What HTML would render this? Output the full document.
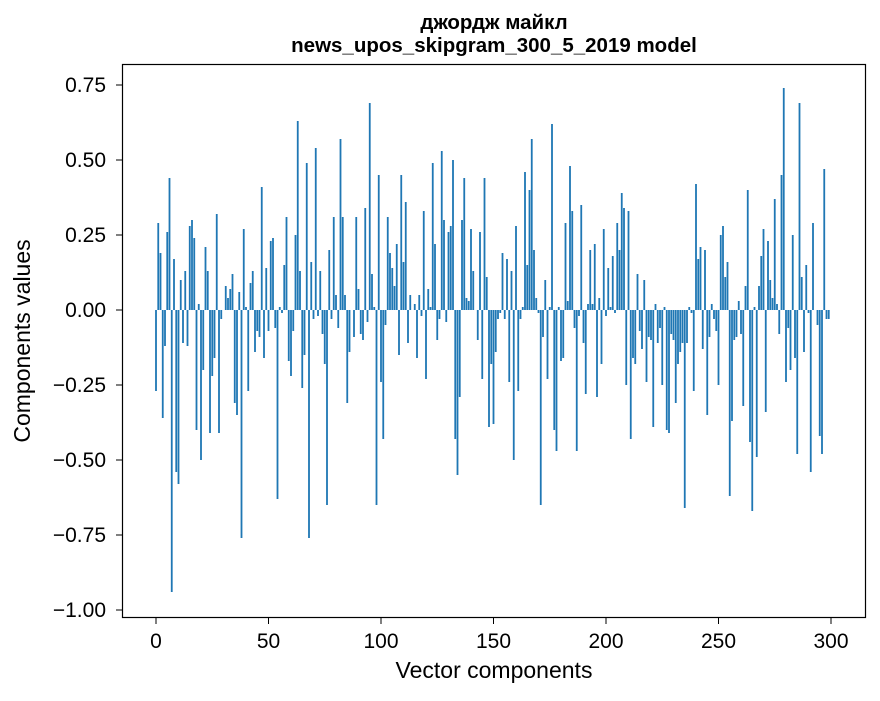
<!DOCTYPE html>
<html><head><meta charset="utf-8"><style>
body{margin:0;background:#fff;font-family:"Liberation Sans","DejaVu Sans",sans-serif}
svg text{font-family:"Liberation Sans","DejaVu Sans",sans-serif}
</style></head><body>
<svg id="chart" width="880" height="696" xmlns="http://www.w3.org/2000/svg">
<rect width="880" height="696" fill="#fff"/>
<text x="494" y="29" text-anchor="middle" font-size="20.5" font-weight="bold">джордж майкл</text>
<text x="494" y="52" text-anchor="middle" font-size="20.5" font-weight="bold">news_upos_skipgram_300_5_2019 model</text>
<g id="bars"></g>
<rect x="122.5" y="64.5" width="743" height="553" fill="none" stroke="#000" stroke-width="1.2"/>
<g id="xaxis"></g>
<g id="yaxis"></g>
<text x="494" y="678" text-anchor="middle" font-size="23">Vector components</text>
<text transform="translate(30,341) rotate(-90)" text-anchor="middle" font-size="23">Components values</text>
</svg>
<script>
const values = [
-0.27,0.29,0.19,-0.36,-0.12,0.26,0.44,-0.94,0.17,-0.54,
-0.58,0.10,-0.11,0.13,-0.12,0.28,0.30,0.24,-0.40,0.02,
-0.50,-0.20,0.21,0.13,-0.41,-0.22,-0.16,0.32,-0.41,-0.03,
0.0,0.08,0.04,0.07,0.12,-0.31,-0.35,0.06,-0.76,0.27,
0.01,-0.27,0.09,0.13,-0.14,-0.07,-0.09,0.41,-0.16,0.14,
-0.07,0.23,0.24,-0.06,-0.63,0.01,-0.01,0.15,0.31,-0.17,
-0.22,-0.07,0.25,0.63,0.13,-0.26,-0.15,0.49,-0.76,0.16,
-0.03,0.54,-0.02,0.13,-0.08,-0.18,-0.65,0.20,-0.03,0.31,
0.05,-0.06,0.57,0.31,0.05,-0.31,-0.14,0.0,-0.09,0.31,
0.07,-0.08,-0.10,0.34,-0.04,0.69,0.12,0.01,-0.65,0.45,
-0.24,-0.43,-0.05,0.31,0.19,0.14,0.08,0.22,-0.15,0.45,
0.16,0.36,-0.11,0.05,0.0,0.02,-0.16,0.05,-0.02,0.33,
-0.23,0.07,0.01,0.49,0.22,-0.10,-0.03,0.53,0.30,-0.04,
0.26,0.28,0.50,-0.43,-0.55,-0.29,0.30,0.44,0.04,0.03,
0.27,0.13,0.0,-0.10,0.26,-0.23,0.44,0.11,-0.39,-0.18,
-0.38,-0.14,-0.03,-0.01,0.19,-0.03,0.17,-0.24,0.13,-0.50,
0.28,-0.27,-0.03,0.01,0.46,0.15,0.40,0.57,0.20,0.04,
-0.01,-0.65,-0.09,0.10,-0.23,0.01,0.62,-0.40,-0.47,0.01,
-0.17,-0.16,0.29,0.03,0.48,0.33,-0.06,-0.47,-0.02,0.35,
-0.11,-0.28,0.02,0.20,0.02,0.22,-0.29,0.04,-0.18,0.27,
-0.02,0.14,0.01,0.18,-0.01,0.29,0.20,0.39,0.34,-0.25,
0.33,-0.43,-0.16,-0.18,0.12,-0.07,-0.13,0.10,-0.24,-0.09,
-0.10,-0.39,0.02,-0.11,-0.06,-0.25,0.01,-0.40,-0.41,-0.08,
-0.10,-0.31,-0.18,-0.14,-0.11,-0.66,-0.11,0.01,-0.01,-0.27,
0.42,0.17,0.21,-0.13,0.20,-0.35,-0.09,0.02,-0.03,-0.07,
-0.25,0.25,0.28,0.11,0.16,-0.62,-0.37,-0.10,-0.09,0.03,
-0.08,-0.32,0.08,0.40,-0.44,-0.67,0.01,-0.49,0.08,0.18,
0.27,-0.34,0.23,0.10,0.04,0.37,0.02,-0.08,0.45,0.74,
-0.24,-0.06,-0.20,0.25,-0.16,-0.48,0.69,0.11,-0.14,0.15,
-0.01,-0.54,0.29,0.0,-0.05,-0.42,-0.48,0.47,-0.03,-0.03
];
const xTicks = [0,50,100,150,200,250,300];
const yTicks = [0.75,0.5,0.25,0,-0.25,-0.5,-0.75,-1.0];
const yTickLabels = ["0.75","0.50","0.25","0.00","\u22120.25","\u22120.50","\u22120.75","\u22121.00"];

const NS="http://www.w3.org/2000/svg";
const xS = v => 156 + v*2.25;
const yS = v => 310 - v*300;
const bars=document.getElementById('bars');
values.forEach((v,i)=>{
  const r=document.createElementNS(NS,'rect');
  
  
  const x0=xS(i-0.4), x1=xS(i+0.4);
  r.setAttribute('x',x0);r.setAttribute('width',x1-x0);
  r.setAttribute('y',Math.min(yS(v),yS(0)));
  r.setAttribute('height',Math.abs(yS(v)-yS(0)));
  r.setAttribute('fill','#1f77b4');
  bars.appendChild(r);
});
const xa=document.getElementById('xaxis');
xTicks.forEach(t=>{
  const l=document.createElementNS(NS,'line');
  
  
  l.setAttribute('x1',xS(t));l.setAttribute('x2',xS(t));l.setAttribute('y1',618);l.setAttribute('y2',624);
  l.setAttribute('stroke','#000');xa.appendChild(l);
  const tx=document.createElementNS(NS,'text');
  
  
  tx.setAttribute('x',xS(t));tx.setAttribute('y',648);tx.setAttribute('text-anchor','middle');tx.setAttribute('font-size','21');
  tx.textContent=t;xa.appendChild(tx);
});
const ya=document.getElementById('yaxis');
yTicks.forEach((t,k)=>{
  const l=document.createElementNS(NS,'line');
  
  
  l.setAttribute('x1',116);l.setAttribute('x2',122);l.setAttribute('y1',yS(t));l.setAttribute('y2',yS(t));
  l.setAttribute('stroke','#000');ya.appendChild(l);
  const tx=document.createElementNS(NS,'text');
  
  
  tx.setAttribute('x',106);tx.setAttribute('y',yS(t)+7);tx.setAttribute('text-anchor','end');tx.setAttribute('font-size','21');
  tx.textContent=yTickLabels[k];ya.appendChild(tx);
});
</script>
</body></html>
